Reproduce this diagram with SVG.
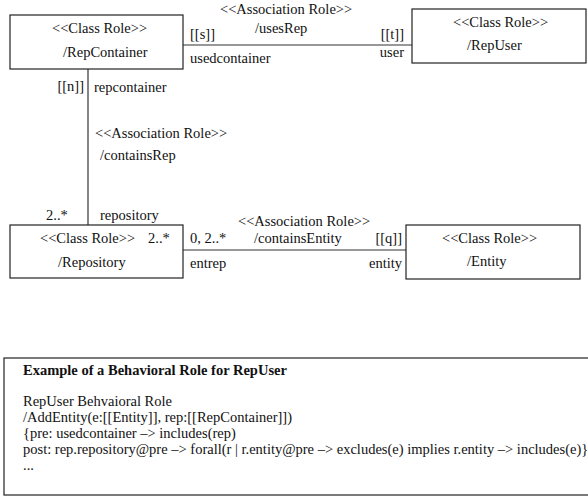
<svg xmlns="http://www.w3.org/2000/svg" width="588" height="499" viewBox="0 0 588 499" font-family="'Liberation Serif', Tinos, 'Times New Roman', Times, serif">
  <style>
    text { font-family: 'Liberation Serif', Tinos, 'Times New Roman', Times, serif; font-size: 14.5px; fill: #111; }
    .b { font-weight: bold; }
    .e { text-anchor: end; }
    .box { fill: #fff; stroke: #222; stroke-width: 1.2; }
    .conn { stroke: #333; stroke-width: 1.2; fill: none; }
  </style>
  <rect width="588" height="499" fill="#fff"/>

  <!-- associations -->
  <g id="connectors">
    <line class="conn" x1="183" y1="45" x2="412" y2="45"/>
    <line class="conn" x1="88" y1="69" x2="88" y2="225"/>
    <line class="conn" x1="183" y1="250" x2="406" y2="250"/>

    <text x="220" y="14">&lt;&lt;Association Role&gt;&gt;</text>
    <text x="255" y="33">/usesRep</text>
    <text x="190" y="39">[[s]]</text>
    <text x="190" y="63">usedcontainer</text>
    <text class="e" x="404" y="39">[[t]]</text>
    <text class="e" x="404" y="57">user</text>

    <text class="e" x="84" y="91">[[n]]</text>
    <text x="94" y="92">repcontainer</text>
    <text x="95" y="138">&lt;&lt;Association Role&gt;&gt;</text>
    <text x="100" y="160">/containsRep</text>
    <text x="46" y="220">2..*</text>
    <text x="100" y="220">repository</text>

    <text x="238" y="226">&lt;&lt;Association Role&gt;&gt;</text>
    <text x="254" y="243">/containsEntity</text>
    <text x="190" y="243">0, 2..*</text>
    <text x="190" y="268">entrep</text>
    <text class="e" x="402" y="243">[[q]]</text>
    <text class="e" x="402" y="268">entity</text>
  </g>

  <g id="RepContainer">
    <rect class="box" x="10" y="15" width="173" height="54"/>
    <text x="52" y="33">&lt;&lt;Class Role&gt;&gt;</text>
    <text x="63" y="57">/RepContainer</text>
  </g>

  <g id="RepUser">
    <rect class="box" x="412" y="9" width="174" height="54"/>
    <text x="453" y="27">&lt;&lt;Class Role&gt;&gt;</text>
    <text x="467" y="50">/RepUser</text>
  </g>

  <g id="Repository">
    <rect class="box" x="10" y="225" width="173" height="53"/>
    <text x="40" y="243">&lt;&lt;Class Role&gt;&gt;</text>
    <text x="148" y="243">2..*</text>
    <text x="58" y="267">/Repository</text>
  </g>

  <g id="Entity">
    <rect class="box" x="406" y="225" width="174" height="54"/>
    <text x="442" y="243">&lt;&lt;Class Role&gt;&gt;</text>
    <text x="467" y="266">/Entity</text>
  </g>

  <g id="BehavioralRole">
    <rect class="box" x="4" y="358" width="590" height="137"/>
    <text class="b" x="23" y="375">Example of a Behavioral Role for RepUser</text>
    <text x="23" y="406">RepUser Behvaioral Role</text>
    <text x="23" y="422">/AddEntity(e:[[Entity]], rep:[[RepContainer]])</text>
    <text x="23" y="438">{pre: usedcontainer –&gt; includes(rep)</text>
    <text x="23" y="454">post: rep.repository@pre –&gt; forall(r | r.entity@pre –&gt; excludes(e) implies r.entity –&gt; includes(e)}</text>
    <text x="23" y="470">...</text>
  </g>
</svg>
